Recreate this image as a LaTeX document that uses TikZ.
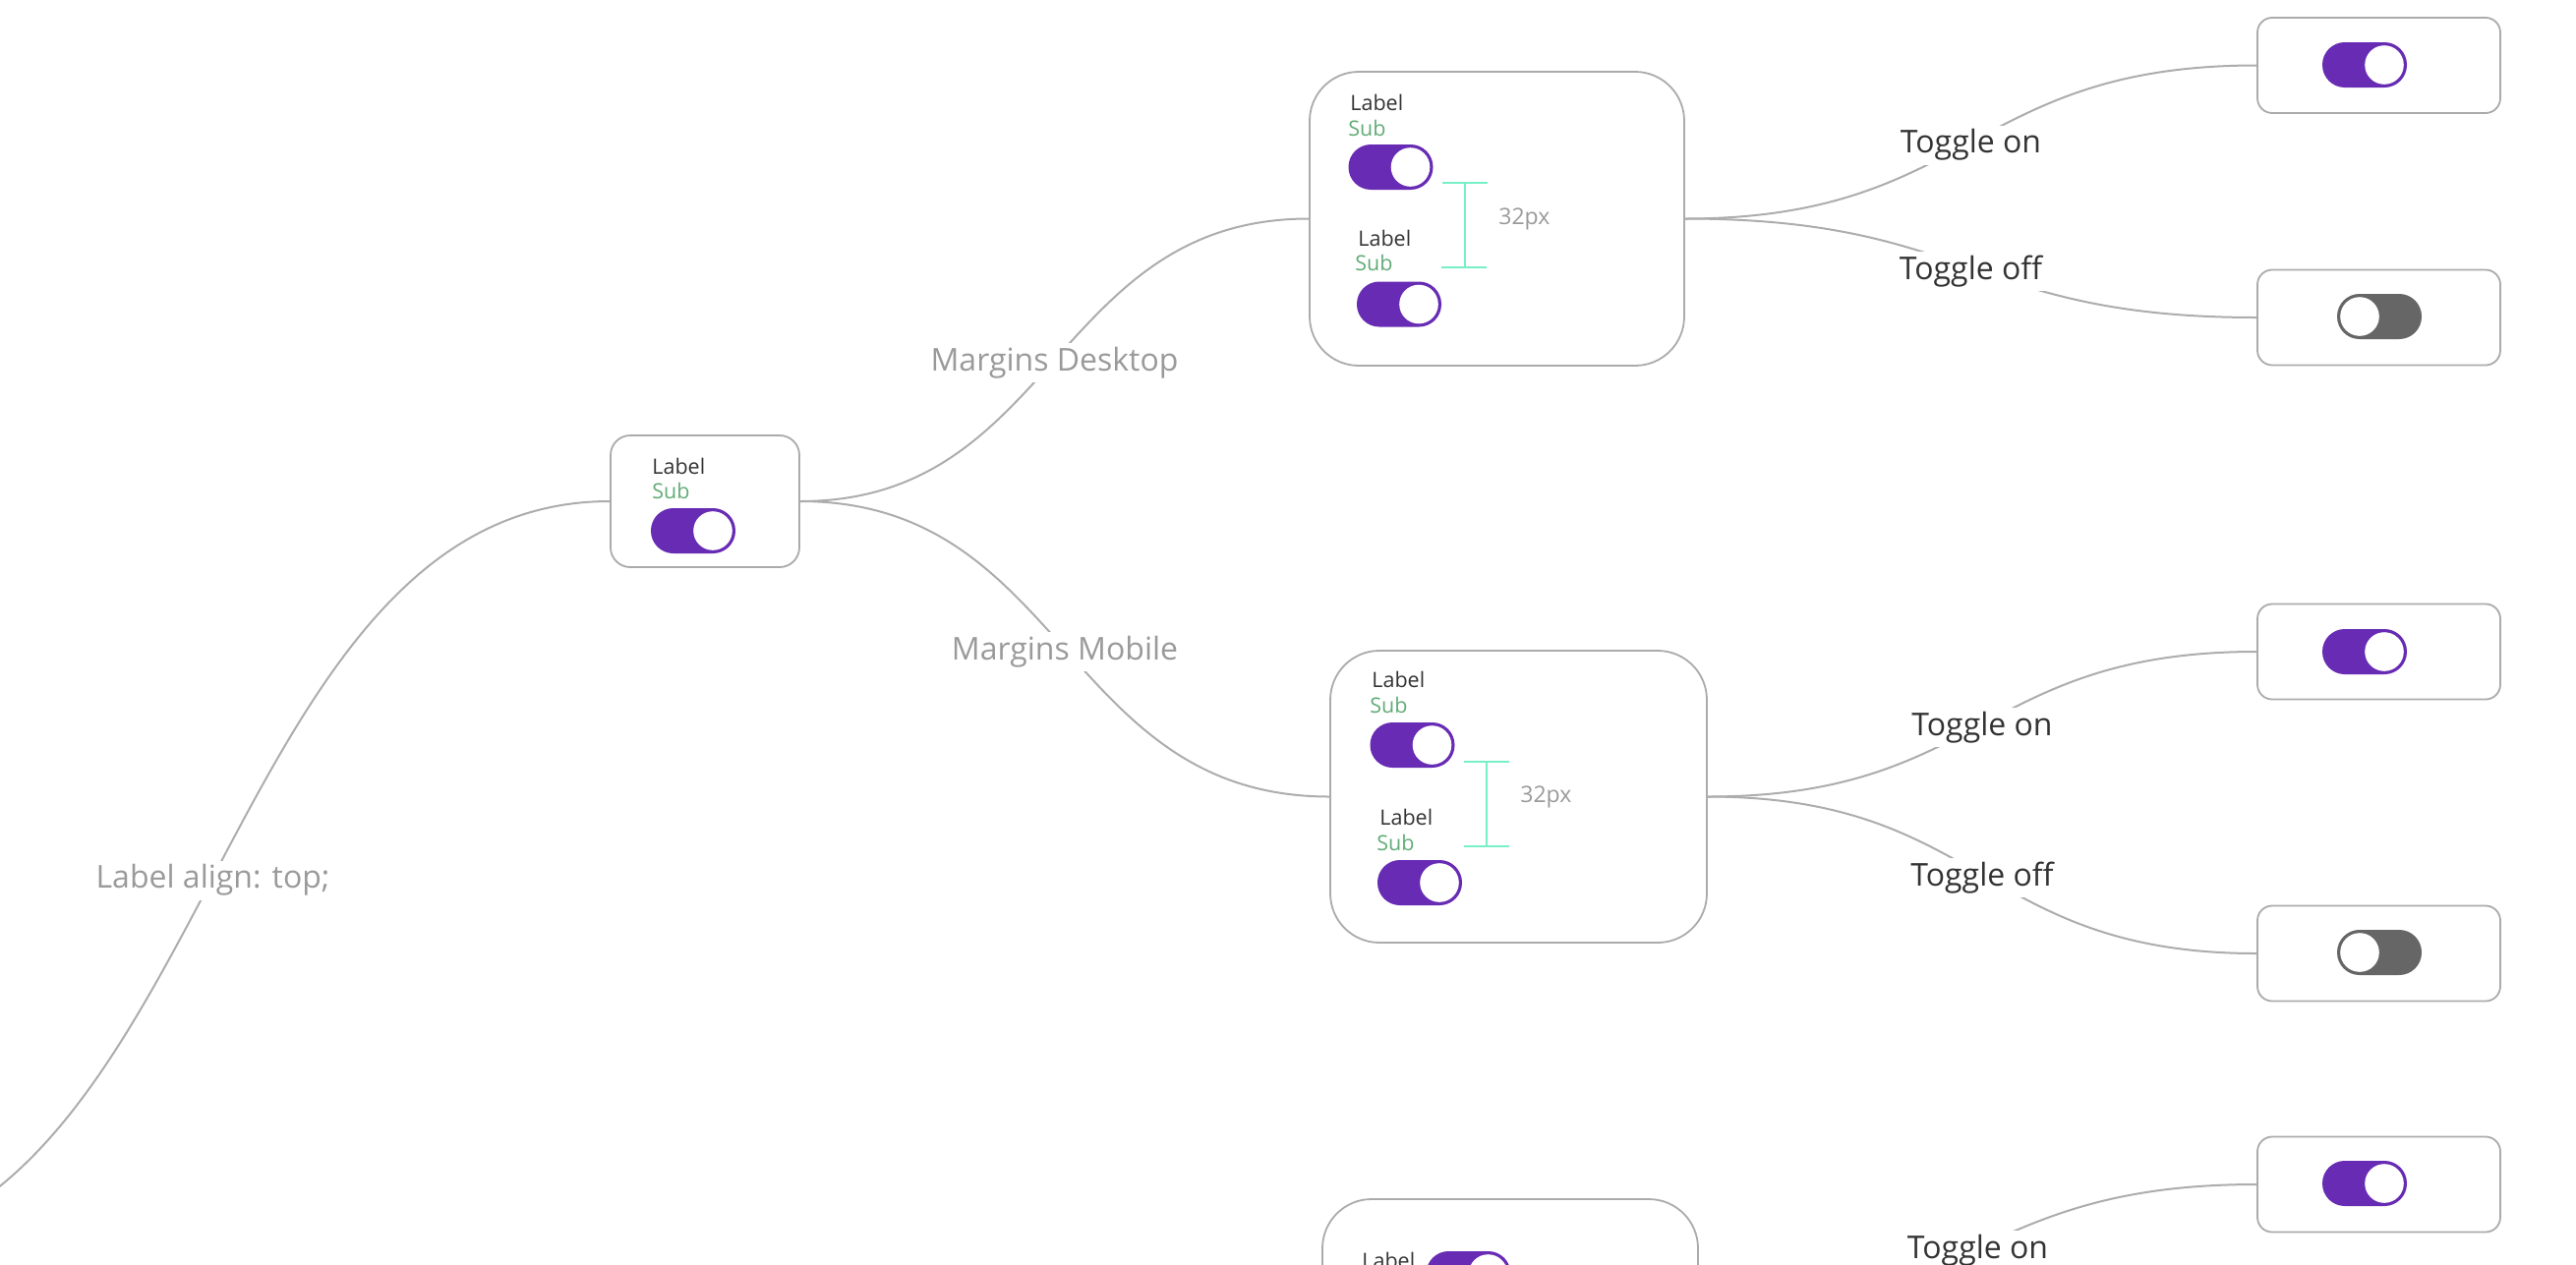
\documentclass[tikz,border=0pt]{standalone}
\usepackage{fontspec}
\setmainfont{Open Sans}
\usetikzlibrary{calc}

\definecolor{linkgray}{HTML}{ADADAD}
\definecolor{boxgray}{HTML}{ABABAB}
\definecolor{tagtext}{HTML}{9A9A9A}
\definecolor{darktext}{HTML}{333333}
\definecolor{subgreen}{HTML}{62AC78}
\definecolor{tgpurple}{HTML}{672BB4}
\definecolor{tggray}{HTML}{666666}
\definecolor{mint}{HTML}{78F0C6}

\tikzset{
  % switch drawn in the "on" state: purple track, knob on the right
  tgon/.pic={
    \fill[tgpurple, rounded corners=11.4pt] (-43,-23) rectangle (43,23);
    \fill[white] (20,0) circle[radius=9.9pt];
  },
  % switch drawn in the "off" state: grey track, knob on the left
  tgoff/.pic={
    \fill[tggray, rounded corners=11.4pt] (-43,-23) rectangle (43,23);
    \fill[white] (-20,0) circle[radius=9.9pt];
  }
}

\begin{document}
\begin{tikzpicture}[x=0.5pt, y=-0.5pt,
  conn/.style={draw=linkgray, line width=1pt},
  linktag/.style={fill=white, inner sep=2pt, yshift=-1.5pt, font=\fontsize{16}{19}\selectfont, text=tagtext},
  linktagdark/.style={linktag, text=darktext},
  card/.style={draw=boxgray, line width=0.9pt, rounded corners=25pt, fill=white, inner sep=0pt},
  smallcard/.style={card, rounded corners=10pt},
  leafcard/.style={card, rounded corners=7.5pt, minimum width=123.5pt, minimum height=48.5pt},
  lbl/.style={anchor=base west, inner sep=0pt, font=\fontsize{10.75}{13}\selectfont, text=darktext},
  subtxt/.style={lbl, text=subgreen},
  gapbar/.style={draw=mint, line width=1.4pt},
  gaptext/.style={anchor=west, inner sep=0pt, font=\fontsize{11.5}{14}\selectfont, text=tagtext}
]
\useasboundingbox (0,0) rectangle (2620,1286);
\fill[white] (0,0) rectangle (2620,1286);
\clip (0,0) rectangle (2620,1286);

% parent of the whole branch lies to the left
\coordinate (origin) at (-187,1275);

% main cards
\node[smallcard, minimum width=96pt, minimum height=67pt] (small) at (717,510) {};
\node[card, minimum width=190.5pt, minimum height=149.5pt] (desk) at (1522.5,222.5) {};
\node[card, minimum width=191.5pt, minimum height=148.5pt] (mob) at (1544.5,810.5) {};
\node[card, minimum width=191pt, minimum height=113pt] (third) at (1536,1333) {};

% result cards
\node[leafcard] (on1) at (2419.5,66.5) {};
\node[leafcard] (off1) at (2419.5,323) {};
\node[leafcard] (on2) at (2419.5,663) {};
\node[leafcard] (off2) at (2419.5,970) {};
\node[leafcard] (on3) at (2419.5,1205) {};

% connectors
\draw[conn] (origin) .. controls +(404,0) and +(-404,0) .. (small.west)
  node[midway, linktag] (tagalign) {Label align: top;};
\draw[conn] (small.east) .. controls +(259.5,0) and +(-259.5,0) .. (desk.west)
  node[midway, linktag] (tagdesk) {Margins Desktop};
\draw[conn] (small.east) .. controls +(270,0) and +(-270,0) .. (mob.west)
  node[midway, linktag] (tagmob) {Margins Mobile};
\draw[conn] (desk.east) .. controls +(291.5,0) and +(-291.5,0) .. (on1.west)
  node[midway, linktagdark] (tagon1) {Toggle on};
\draw[conn] (desk.east) .. controls +(291.5,0) and +(-291.5,0) .. (off1.west)
  node[midway, linktagdark] (tagoff1) {Toggle off};
\draw[conn] (mob.east) .. controls +(280,0) and +(-280,0) .. (on2.west)
  node[midway, linktagdark] (tagon2) {Toggle on};
\draw[conn] (mob.east) .. controls +(280,0) and +(-280,0) .. (off2.west)
  node[midway, linktagdark] (tagoff2) {Toggle off};
\draw[conn] (third.east) .. controls +(285,0) and +(-285,0) .. (on3.west)
  node[midway, linktagdark] (tagon3) {Toggle on};

% small card content
\node[lbl] (smlbl) at (663,482) {Label};
\node[subtxt] (smsub) at (663,507) {Sub};
\pic at (705,540) {tgon};

% desktop card content
\node[lbl] (dlbl1) at (1373,112) {Label};
\node[subtxt] (dsub1) at (1371,138) {Sub};
\pic at (1414.5,170) {tgon};
\node[lbl] (dlbl2) at (1381,250) {Label};
\node[subtxt] (dsub2) at (1378,275) {Sub};
\pic at (1423,309.5) {tgon};
\draw[gapbar] (1490,186) -- (1490,272);
\draw[gapbar] (1467,186) -- (1513,186);
\draw[gapbar] (1466,272) -- (1512,272);
\node[gaptext] (dgap) at (1524,223) {32px};

% mobile card content
\node[lbl] (mlbl1) at (1395,699) {Label};
\node[subtxt] (msub1) at (1393,725) {Sub};
\pic at (1436.5,758) {tgon};
\node[lbl] (mlbl2) at (1403,839) {Label};
\node[subtxt] (msub2) at (1400,865) {Sub};
\pic at (1444,898) {tgon};
\draw[gapbar] (1512,775) -- (1512,861);
\draw[gapbar] (1489,775) -- (1535,775);
\draw[gapbar] (1489,861) -- (1535,861);
\node[gaptext] (mgap) at (1546,811) {32px};

% third card content
\node[lbl] (tlbl) at (1385,1290) {Label};
\pic at (1493.5,1296) {tgon};

% result card switches
\pic at (2405,66) {tgon};
\pic at (2420,322) {tgoff};
\pic at (2405,663) {tgon};
\pic at (2420,969) {tgoff};
\pic at (2405,1204) {tgon};
\end{tikzpicture}
\end{document}
